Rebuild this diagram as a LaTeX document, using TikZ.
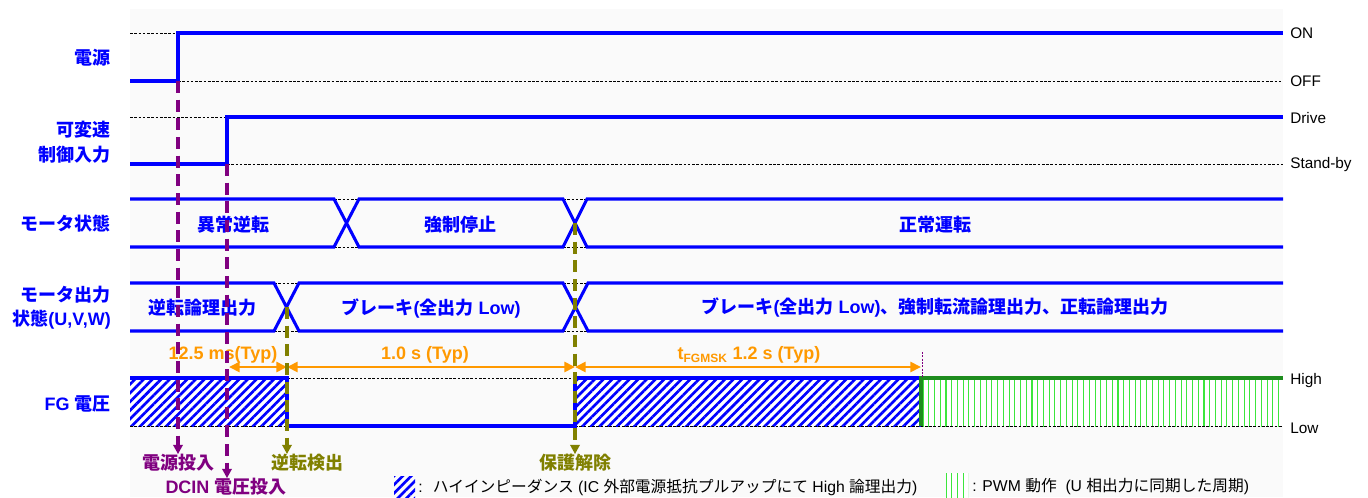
\documentclass[tikz,border=0pt]{standalone}
\usepackage{fontspec}
\setmainfont{Liberation Sans}
\newfontfamily\jpfont{Noto Sans CJK JP}
\newcommand\jp[1]{{\jpfont #1}}
\usetikzlibrary{arrows.meta,patterns.meta}
\definecolor{sigblue}{RGB}{0,0,255}
\definecolor{evpurple}{RGB}{128,0,128}
\definecolor{evolive}{RGB}{128,128,0}
\definecolor{dimorange}{RGB}{255,153,0}
\definecolor{pwmgreen}{RGB}{60,230,60}
\definecolor{pwmdark}{RGB}{30,140,30}
\definecolor{panelgray}{RGB}{250,250,250}
\tikzset{
  sig/.style={sigblue,line width=2.3pt},
  lvl/.style={black,line width=0.6pt,dash pattern=on 2pt off 1.2pt},
  signame/.style={font=\fontsize{13.5}{18}\selectfont\bfseries,text=sigblue,anchor=east,align=right,inner sep=0pt},
  statetext/.style={font=\fontsize{13.5}{17}\selectfont\bfseries,text=sigblue,inner sep=0pt},
  leveltext/.style={font=\fontsize{11.5}{14}\selectfont,anchor=west,inner sep=0pt},
  dimtext/.style={font=\fontsize{13.5}{17}\selectfont\bfseries,text=dimorange,inner sep=0pt},
  dimline/.style={dimorange,line width=2pt,{Triangle[length=8pt,width=7.5pt]}-{Triangle[length=8pt,width=7.5pt]}},
  evtext/.style={font=\fontsize{13.5}{17}\selectfont\bfseries,inner sep=0pt},
  evline/.style={line width=2.6pt,dash pattern=on 9pt off 5pt,-{Triangle[length=7pt,width=7pt]}},
  legtext/.style={font=\fontsize{11.8}{14}\selectfont,anchor=west,inner sep=0pt},
  hiz/.style={pattern={Lines[angle=45,distance=4.6pt,line width=2pt]},pattern color=sigblue},
  pwm/.style={pattern={Lines[angle=90,distance=4.3pt,line width=0.8pt]},pattern color=pwmgreen}
}
\begin{document}
\begin{tikzpicture}[x=0.75pt,y=-0.75pt,line cap=butt,line join=miter]
  \useasboundingbox (0,0) rectangle (1368,497);
  \fill[panelgray] (130,9) rectangle (1283,497);

  % Row 1: power supply.
  \draw[lvl] (130,33)--(178,33);
  \draw[lvl] (178,81)--(1283,81);
  \draw[sig] (130,81)--(178,81)--(178,33)--(1283,33);
  \coordinate (tpow) at (178,81);
  \node[signame] (npow) at (111,58) {\jp{電源}};
  \node[leveltext] (lon) at (1290,33) {ON};
  \node[leveltext] (loff) at (1290,81) {OFF};

  % Row 2: speed control input.
  \draw[lvl] (130,117)--(227,117);
  \draw[lvl] (227,164)--(1283,164);
  \draw[sig] (130,164)--(227,164)--(227,117)--(1283,117);
  \coordinate (tdcin) at (227,164);
  \node[signame] (nspd) at (111,142) {\jp{可変速}\\[1pt]\jp{制御入力}};
  \node[leveltext] (ldrv) at (1290,118) {Drive};
  \node[leveltext] (lstb) at (1290,165) {Stand-by};

  % Row 3: motor state.
  \foreach \a/\b in {334/359,563/587} {
    \draw[lvl] (\a,199)--(\b,199);
    \draw[lvl] (\a,247)--(\b,247);
  }
  \draw[sig] (130,199)--(334,199)--(359,247)--(563,247)--(587,199)--(1283,199);
  \draw[sig] (130,247)--(334,247)--(359,199)--(563,199)--(587,247)--(1283,247);
  \coordinate (tprot) at (575,223);
  \node[signame] (nmot) at (111,224) {\jp{モータ状態}};
  \node[statetext] (s1) at (233,225) {\jp{異常逆転}};
  \node[statetext] (s2) at (460,225) {\jp{強制停止}};
  \node[statetext] (s3) at (935,225) {\jp{正常運転}};

  % Row 4: motor output state.
  \foreach \a/\b in {274/299,563/588} {
    \draw[lvl] (\a,283)--(\b,283);
    \draw[lvl] (\a,331)--(\b,331);
  }
  \draw[sig] (130,283)--(274,283)--(299,331)--(563,331)--(588,283)--(1283,283);
  \draw[sig] (130,331)--(274,331)--(299,283)--(563,283)--(588,331)--(1283,331);
  \coordinate (trev) at (287,307);
  \node[signame] (nout) at (111,308) {\jp{モータ出力}\\\jp{状態}(U,V,W)};
  \node[statetext] (o1) at (202,308) {\jp{逆転論理出力}};
  \node[statetext] (o2) at (431,308) {\jp{ブレーキ}(\jp{全出力} Low)};
  \node[statetext] (o3) at (935,307) {\jp{ブレーキ}(\jp{全出力} Low)\jp{、強制転流論理出力、正転論理出力}};

  % Row 5: FG voltage.
  \fill[white] (130,378) rectangle (287,426);
  \fill[hiz] (130,378) rectangle (287,426);
  \fill[white] (575,378) rectangle (921,426);
  \fill[hiz] (575,378) rectangle (921,426);
  \fill[white] (921,378) rectangle (1283,426);
  \fill[pwm] (921,378) rectangle (1283,426);
  \draw[lvl] (130,426)--(287,426);
  \draw[lvl] (287,378)--(575,378);
  \draw[lvl] (575,426)--(1283,426);
  \draw[sig] (130,378)--(287,378)--(287,426)--(575,426)--(575,378)--(921,378);
  \draw[pwmdark,line width=2.6pt] (921,426)--(921,378)--(1283,378);
  \draw[evpurple,line width=0.6pt,dash pattern=on 1.5pt off 1pt] (922,352)--(922,378);
  \node[signame] (nfg) at (111,404) {FG \jp{電圧}};
  \node[leveltext] (lhi) at (1290,381) {High};
  \node[leveltext] (llo) at (1290,428) {Low};

  % Timing dimensions.
  \coordinate (d0) at (229,367);
  \coordinate (d1) at (287,367);
  \coordinate (d2) at (575,367);
  \coordinate (d3) at (921,367);
  \draw[dimline] (d0)--(d1);
  \draw[dimline] (d1)--(d2);
  \draw[dimline] (d2)--(d3);
  \node[dimtext] (m1) at (223,355) {12.5 ms(Typ)};
  \node[dimtext] (m2) at (425,355) {1.0 s (Typ)};
  \node[dimtext] (m3) at (749,355) {t\textsubscript{\fontsize{9}{9}\selectfont FGMSK} 1.2 s (Typ)};

  % Events.
  \node[evtext,text=evpurple] (epow) at (178,463) {\jp{電源投入}};
  \node[evtext,text=evpurple] (edcin) at (226,487) {DCIN \jp{電圧投入}};
  \node[evtext,text=evolive] (erev) at (307,463) {\jp{逆転検出}};
  \node[evtext,text=evolive] (eprot) at (575,463) {\jp{保護解除}};
  \draw[evline,evpurple] (tpow)--(tpow |- epow.north);
  \draw[evline,evpurple] (tdcin)--(tdcin |- edcin.north);
  \draw[evline,evolive] (trev)--(trev |- erev.north);
  \draw[evline,evolive] (tprot)--(tprot |- eprot.north);

  % Legend.
  \fill[hiz] (394,476) rectangle (415,497);
  \node[legtext] (leg1) at (418,487) {: \ \jp{ハイインピーダンス} (IC \jp{外部電源抵抗プルアップにて} High \jp{論理出力})};
  \fill[white] (946,473) rectangle (968,497);
  \fill[pwm] (946,473) rectangle (968,497);
  \node[legtext] (leg2) at (972,487) {: PWM \jp{動作} \ (U \jp{相出力に同期した周期})};
\end{tikzpicture}
\end{document}
